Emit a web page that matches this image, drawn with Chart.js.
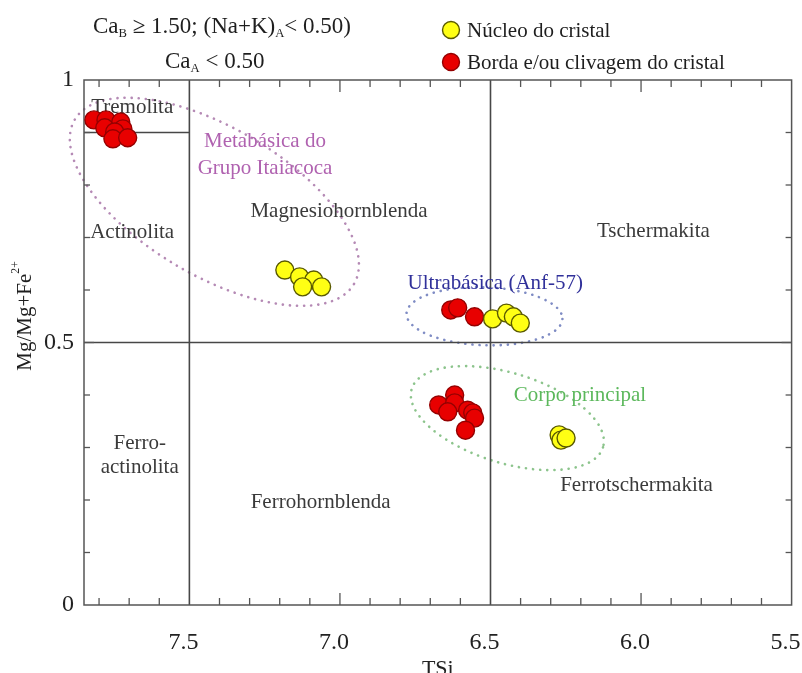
<!DOCTYPE html>
<html>
<head>
<meta charset="utf-8">
<script src="https://cdn.jsdelivr.net/npm/chart.js@4/dist/chart.umd.min.js"></script>
<style>
  html, body { margin: 0; padding: 0; background: #fff; }
  #wrap { width: 802px; height: 673px; }
</style>
</head>
<body>
<div id="wrap"><canvas id="c" width="802" height="673"></canvas></div>
<script>
// Amphibole classification: TSi vs Mg/(Mg+Fe2+)
const seriesNames = ['Núcleo do cristal', 'Borda e/ou clivagem do cristal'];

// Núcleo (core) analyses
const nucleoTSi = [7.183, 7.134, 7.087, 7.124, 7.061,
                   6.493, 6.447, 6.424, 6.401,
                   6.272, 6.266, 6.249];
const nucleoMg  = [0.638, 0.625, 0.619, 0.606, 0.606,
                   0.545, 0.556, 0.549, 0.537,
                   0.324, 0.314, 0.318];

// Borda / clivagem (rim / cleavage) analyses
const bordaTSi = [7.817, 7.777, 7.728, 7.781, 7.721, 7.748, 7.754, 7.705,
                  6.632, 6.609, 6.553,
                  6.672, 6.619, 6.619, 6.642, 6.576, 6.559, 6.553, 6.583];
const bordaMg  = [0.924, 0.924, 0.920, 0.909, 0.907, 0.901, 0.888, 0.890,
                  0.562, 0.566, 0.549,
                  0.381, 0.400, 0.385, 0.368, 0.371, 0.366, 0.356, 0.333];

// Axis tick labels
const xTickLabels = [7.5, 7.0, 6.5, 6.0, 5.5];
const yTickLabels = [0, 0.5, 1];

// Field names of the diagram, anchored in data coordinates
const fieldLabels = [
  { text: 'Tremolita',          x: 7.690, y: 0.947, color: '#3a3a3a' },
  { text: 'Actinolita',         x: 7.690, y: 0.709, color: '#3a3a3a' },
  { text: 'Magnesiohornblenda', x: 7.003, y: 0.749, color: '#3a3a3a' },
  { text: 'Tschermakita',       x: 5.959, y: 0.712, color: '#3a3a3a' },
  { text: 'Ferro-',             x: 7.665, y: 0.307, color: '#3a3a3a' },
  { text: 'actinolita',         x: 7.665, y: 0.261, color: '#3a3a3a' },
  { text: 'Ferrohornblenda',    x: 7.064, y: 0.196, color: '#3a3a3a' },
  { text: 'Ferrotschermakita',  x: 6.015, y: 0.227, color: '#3a3a3a' },
  { text: 'Metabásica do',      x: 7.249, y: 0.882, color: '#b062b0' },
  { text: 'Grupo Itaiacoca',    x: 7.249, y: 0.832, color: '#b062b0' },
  { text: 'Ultrabásica (Anf-57)', x: 6.484, y: 0.613, color: '#30309a' },
  { text: 'Corpo principal',    x: 6.203, y: 0.400, color: '#5cb85c' }
];

// Dotted envelopes around each group (centre in data units, radii in px)
const envelopes = [
  { cx: 7.417, cy: 0.768, rx: 162, ry: 74, rot: 30.5, color: '#b58ab5' },
  { cx: 6.520, cy: 0.550, rx: 78,  ry: 29, rot: 2,    color: '#7f8cc4' },
  { cx: 6.444, cy: 0.356, rx: 100, ry: 45, rot: 17,   color: '#8cc48c' }
];

const SERIF = "'Liberation Serif', 'Times New Roman', serif";
const X_MIN = 5.5, X_MAX = 7.85;

function pts(xs, ys) { return xs.map((x, i) => ({ x: x, y: ys[i] })); }

const diagramPlugin = {
  id: 'diagram',
  beforeDatasetsDraw(chart) {
    const { ctx, chartArea: a, scales: { x, y } } = chart;
    ctx.save();

    // dotted envelopes
    envelopes.forEach(e => {
      ctx.save();
      ctx.translate(x.getPixelForValue(e.cx), y.getPixelForValue(e.cy));
      ctx.rotate(e.rot * Math.PI / 180);
      ctx.beginPath();
      ctx.ellipse(0, 0, e.rx, e.ry, 0, 0, Math.PI * 2);
      ctx.setLineDash([0.1, 7]);
      ctx.lineCap = 'round';
      ctx.lineWidth = 2.6;
      ctx.strokeStyle = e.color;
      ctx.stroke();
      ctx.restore();
    });
    ctx.setLineDash([]);
    ctx.lineCap = 'butt';

    // field boundaries
    ctx.strokeStyle = '#474747';
    ctx.lineWidth = 1.6;
    const line = (x1, y1, x2, y2) => { ctx.beginPath(); ctx.moveTo(x1, y1); ctx.lineTo(x2, y2); ctx.stroke(); };
    [7.5, 6.5].forEach(v => { const px = x.getPixelForValue(v); line(px, a.top, px, a.bottom); });
    const py5 = y.getPixelForValue(0.5);
    line(a.left, py5, a.right, py5);
    const py9 = y.getPixelForValue(0.9);
    line(a.left, py9, x.getPixelForValue(7.5), py9);

    // frame
    ctx.strokeStyle = '#555';
    ctx.lineWidth = 1.5;
    ctx.strokeRect(a.left, a.top, a.right - a.left, a.bottom - a.top);

    // inward tick marks
    ctx.lineWidth = 1.3;
    for (let k = 56; k <= 78; k++) {
      if (k === 65 || k === 75) continue;
      const px = x.getPixelForValue(k / 10);
      const len = (k % 10 === 0) ? 12 : 7;
      line(px, a.bottom, px, a.bottom - len);
      line(px, a.top, px, a.top + len);
    }
    for (let k = 1; k <= 9; k++) {
      const py = y.getPixelForValue(k / 10);
      const len = k === 5 ? 10 : 6;
      line(a.left, py, a.left + len, py);
      line(a.right, py, a.right - len, py);
    }

    // field names
    ctx.font = '21px ' + SERIF;
    ctx.textAlign = 'center';
    ctx.textBaseline = 'middle';
    fieldLabels.forEach(l => {
      ctx.fillStyle = l.color;
      ctx.fillText(l.text, x.getPixelForValue(l.x), y.getPixelForValue(l.y));
    });
    ctx.restore();
  },
  afterDraw(chart) {
    const { ctx } = chart;
    ctx.save();
    ctx.fillStyle = '#1e1e1e';
    ctx.textBaseline = 'alphabetic';
    ctx.textAlign = 'left';

    // rich text with subscripts / superscripts
    const rich = (segs, x0, base, size) => {
      let xx = x0;
      segs.forEach(s => {
        const sz = s.sub || s.sup ? size * 0.55 : size;
        ctx.font = sz + 'px ' + SERIF;
        const dy = s.sub ? size * 0.18 : (s.sup ? -size * 0.42 : 0);
        ctx.fillText(s.t, xx, base + dy);
        xx += ctx.measureText(s.t).width;
      });
      return xx - x0;
    };
    const richWidth = (segs, size) => segs.reduce((w, s) => {
      ctx.font = (s.sub || s.sup ? size * 0.55 : size) + 'px ' + SERIF;
      return w + ctx.measureText(s.t).width;
    }, 0);

    rich([{ t: 'Ca' }, { t: 'B', sub: true }, { t: ' \u2265 1.50; (Na+K)' }, { t: 'A', sub: true }, { t: '< 0.50)' }], 93, 33, 23);
    rich([{ t: 'Ca' }, { t: 'A', sub: true }, { t: ' < 0.50' }], 165, 68, 23);

    // legend
    const legendRows = [
      { label: chart.data.datasets[0].label, ds: chart.data.datasets[0], y: 30 },
      { label: chart.data.datasets[1].label, ds: chart.data.datasets[1], y: 62 }
    ];
    legendRows.forEach(r => {
      ctx.beginPath();
      ctx.arc(451, r.y, 8.5, 0, Math.PI * 2);
      ctx.fillStyle = r.ds.backgroundColor;
      ctx.fill();
      ctx.lineWidth = 1.4;
      ctx.strokeStyle = r.ds.borderColor;
      ctx.stroke();
      ctx.fillStyle = '#1e1e1e';
      ctx.font = '21px ' + SERIF;
      ctx.textBaseline = 'middle';
      ctx.fillText(r.label, 467, r.y + 1);
    });

    // y-axis title, rotated
    const ySegs = [{ t: 'Mg/Mg+Fe' }, { t: '2+', sup: true }];
    ctx.translate(25, 316);
    ctx.rotate(-Math.PI / 2);
    ctx.textBaseline = 'middle';
    const w = richWidth(ySegs, 21);
    rich(ySegs, -w / 2, 0, 21);
    ctx.restore();
  }
};

new Chart(document.getElementById('c'), {
  type: 'scatter',
  data: {
    datasets: [
      {
        label: seriesNames[0],
        data: pts(nucleoTSi, nucleoMg),
        backgroundColor: '#ffff14',
        borderColor: '#5a5a00',
        borderWidth: 1.4,
        pointRadius: 9,
        pointHoverRadius: 9
      },
      {
        label: seriesNames[1],
        data: pts(bordaTSi, bordaMg),
        backgroundColor: '#e80000',
        borderColor: '#950000',
        borderWidth: 1.4,
        pointRadius: 9,
        pointHoverRadius: 9
      }
    ]
  },
  options: {
    responsive: false,
    animation: false,
    devicePixelRatio: 1,
    layout: { padding: { top: 80, right: 6, left: 0, bottom: 0 } },
    plugins: {
      legend: { display: false },
      title: { display: false },
      tooltip: { enabled: false }
    },
    scales: {
      x: {
        type: 'linear',
        reverse: true,
        min: X_MIN,
        max: X_MAX,
        grid: { display: false, drawTicks: false },
        border: { display: false },
        afterBuildTicks: s => { s.ticks = xTickLabels.map(v => ({ value: v })); },
        afterFit: s => { s.height = 68; s.paddingLeft = 0; s.paddingRight = 0; },
        ticks: {
          padding: 26,
          labelOffset: -6,
          color: '#222',
          font: { family: SERIF, size: 24, lineHeight: 1 },
          callback: v => v.toFixed(1)
        },
        title: {
          display: true,
          text: 'TSi',
          color: '#222',
          font: { family: SERIF, size: 22, lineHeight: 1 },
          padding: { top: 0, bottom: -7 }
        }
      },
      y: {
        type: 'linear',
        min: 0,
        max: 1,
        grid: { display: false, drawTicks: false },
        border: { display: false },
        afterBuildTicks: s => { s.ticks = yTickLabels.map(v => ({ value: v })); },
        afterFit: s => { s.width = 84; },
        ticks: {
          padding: 10,
          color: '#222',
          font: { family: SERIF, size: 24, lineHeight: 1 },
          callback: v => String(v)
        }
      }
    }
  },
  plugins: [diagramPlugin]
});
</script>
</body>
</html>
